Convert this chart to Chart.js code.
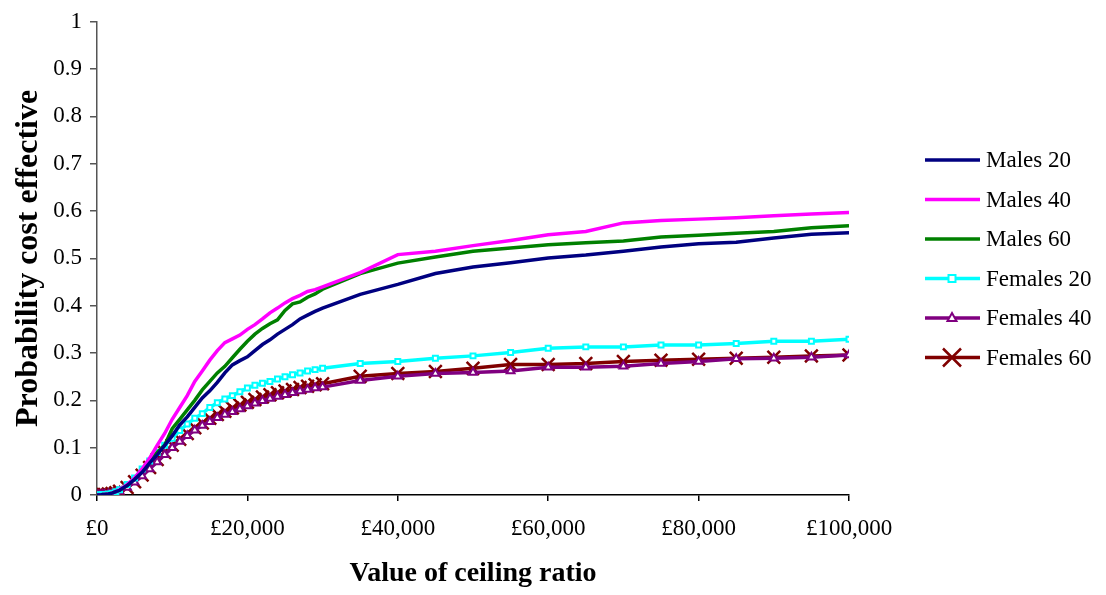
<!DOCTYPE html>
<html>
<head>
<meta charset="utf-8">
<title>Probability cost effective</title>
<script src="https://cdn.jsdelivr.net/npm/chart.js@4.4.1/dist/chart.umd.min.js"></script>
<style>
  body { margin: 0; background: #fff; }
  canvas { display: block; }
</style>
</head>
<body>
<canvas id="ceac" width="1106" height="595"></canvas>
<script>
// ceiling ratio values (£)
var ceilingRatio = [0, 250, 500, 750, 1000, 1500, 2000, 2500, 3000,
	4000, 5000, 6000, 7000, 8000, 9000, 10000, 11000, 12000, 13000, 14000, 15000,
	16000, 17000, 18000, 19000, 20000, 21000, 22000, 23000, 24000, 25000, 26000,
	27000, 28000, 29000, 30000,
	35000, 40000, 45000, 50000, 55000, 60000, 65000, 70000, 75000, 80000, 85000,
	90000, 95000, 100000];

var males20 = [0, 0, 0, 0.001, 0.001, 0.002, 0.004, 0.007, 0.01,
	0.02, 0.033, 0.048, 0.068, 0.085, 0.105, 0.125, 0.148, 0.165, 0.185, 0.205, 0.22,
	0.238, 0.258, 0.275, 0.284, 0.292, 0.305, 0.318, 0.328, 0.34, 0.35, 0.36,
	0.372, 0.38, 0.388, 0.395,
	0.424, 0.445, 0.468, 0.482, 0.491, 0.501, 0.507, 0.515, 0.524, 0.531, 0.534,
	0.543, 0.551, 0.554];

var males40 = [0, 0, 0, 0.001, 0.001, 0.002, 0.004, 0.007, 0.011,
	0.022, 0.036, 0.055, 0.078, 0.105, 0.13, 0.16, 0.185, 0.21, 0.24, 0.262, 0.285,
	0.305, 0.322, 0.33, 0.338, 0.35, 0.36, 0.372, 0.385, 0.395, 0.406, 0.415,
	0.422, 0.43, 0.434, 0.44,
	0.47, 0.508, 0.515, 0.527, 0.538, 0.55, 0.557, 0.575, 0.58, 0.583, 0.586,
	0.59, 0.594, 0.597];

var males60 = [0, 0, 0, 0.001, 0.001, 0.002, 0.004, 0.007, 0.01,
	0.02, 0.034, 0.05, 0.07, 0.09, 0.105, 0.14, 0.16, 0.18, 0.2, 0.222, 0.24,
	0.258, 0.272, 0.29, 0.308, 0.325, 0.34, 0.352, 0.362, 0.37, 0.39, 0.404,
	0.408, 0.418, 0.425, 0.435,
	0.468, 0.49, 0.503, 0.515, 0.522, 0.529, 0.533, 0.537, 0.545, 0.549, 0.553,
	0.557, 0.565, 0.569];

var females20 = [0, 0, 0, 0.001, 0.001, 0.002, 0.004, 0.007, 0.011,
	0.022, 0.036, 0.055, 0.072, 0.09, 0.105, 0.12, 0.136, 0.15, 0.162, 0.172, 0.185,
	0.195, 0.203, 0.21, 0.218, 0.226, 0.232, 0.236, 0.24, 0.245, 0.25, 0.254,
	0.258, 0.262, 0.265, 0.268,
	0.278, 0.282, 0.289, 0.294, 0.301, 0.31, 0.313, 0.313, 0.317, 0.317, 0.32,
	0.325, 0.325, 0.329];

var females40 = [0, 0, 0, 0.001, 0.001, 0.002, 0.003, 0.005, 0.008,
	0.016, 0.027, 0.04, 0.055, 0.07, 0.085, 0.1, 0.113, 0.125, 0.137, 0.147, 0.155,
	0.163, 0.17, 0.176, 0.182, 0.188, 0.194, 0.199, 0.204, 0.208, 0.212, 0.216,
	0.22, 0.223, 0.226, 0.228,
	0.242, 0.251, 0.257, 0.259, 0.262, 0.27, 0.27, 0.272, 0.278, 0.282, 0.288,
	0.289, 0.291, 0.296];

var females60 = [0, 0, 0, 0.001, 0.001, 0.002, 0.003, 0.005, 0.008,
	0.016, 0.028, 0.042, 0.058, 0.075, 0.09, 0.105, 0.118, 0.13, 0.142, 0.152, 0.162,
	0.17, 0.177, 0.184, 0.19, 0.196, 0.202, 0.207, 0.212, 0.216, 0.22, 0.223,
	0.227, 0.23, 0.233, 0.235,
	0.251, 0.257, 0.261, 0.268, 0.276, 0.276, 0.278, 0.282, 0.285, 0.287, 0.289,
	0.291, 0.294, 0.296];

var seriesNames = ["Males 20", "Males 40", "Males 60", "Females 20", "Females 40", "Females 60"];
var seriesValues = [males20, males40, males60, females20, females40, females60];
var seriesColors = ["#000080", "#FF00FF", "#008000", "#00FFFF", "#800080", "#800000"];
var seriesMarkers = [false, false, false, "rect", "triangle", "crossRot"];

var xTicks = [0, 20000, 40000, 60000, 80000, 100000];
var yTicks = [0, 0.1, 0.2, 0.3, 0.4, 0.5, 0.6, 0.7, 0.8, 0.9, 1];

var serif = "'Liberation Serif', 'Times New Roman', serif";

function pointsFor(values) {
	var pts = [];
	for (var i = 0; i < values.length; i++) {
		pts.push({ x: ceilingRatio[i], y: values[i] });
	}
	return pts;
}

function markerSize(style) {
	if (style == "crossRot") return 9;
	if (style == "triangle") return 4.5;
	return 3.5;
}

var datasets = [];
for (var s = 0; s < seriesNames.length; s++) {
	var mk = seriesMarkers[s];
	datasets.push({
		label: seriesNames[s],
		data: pointsFor(seriesValues[s]),
		borderColor: seriesColors[s],
		backgroundColor: seriesColors[s],
		borderWidth: 3.5,
		tension: 0,
		fill: false,
		pointStyle: mk || "circle",
		pointRadius: mk ? markerSize(mk) : 0,
		pointBorderColor: seriesColors[s],
		pointBackgroundColor: "#ffffff",
		pointBorderWidth: mk == "crossRot" ? 2.5 : 2
	});
}

// legend drawn by hand so each entry shows its line with the marker on it
function drawMarker(ctx, style, x, y, color) {
	ctx.save();
	ctx.strokeStyle = color;
	ctx.fillStyle = "#ffffff";
	if (style == "rect") {
		ctx.lineWidth = 2;
		ctx.fillRect(x - 3.5, y - 3.5, 7, 7);
		ctx.strokeRect(x - 3.5, y - 3.5, 7, 7);
	} else if (style == "triangle") {
		ctx.lineWidth = 2;
		ctx.beginPath();
		ctx.moveTo(x, y - 5);
		ctx.lineTo(x + 4.5, y + 3);
		ctx.lineTo(x - 4.5, y + 3);
		ctx.closePath();
		ctx.fill();
		ctx.stroke();
	} else if (style == "crossRot") {
		ctx.lineWidth = 2.5;
		ctx.beginPath();
		ctx.moveTo(x - 9, y - 9);
		ctx.lineTo(x + 9, y + 9);
		ctx.moveTo(x + 9, y - 9);
		ctx.lineTo(x - 9, y + 9);
		ctx.stroke();
	}
	ctx.restore();
}

var sideLegend = {
	id: "sideLegend",
	afterDraw: function (chart) {
		var ctx = chart.ctx;
		ctx.save();
		ctx.font = "23px " + serif;
		ctx.textBaseline = "middle";
		ctx.textAlign = "left";
		for (var i = 0; i < chart.data.datasets.length; i++) {
			var ds = chart.data.datasets[i];
			var y = 160 + i * 39.5;
			ctx.strokeStyle = ds.borderColor;
			ctx.lineWidth = 3.5;
			ctx.beginPath();
			ctx.moveTo(925, y);
			ctx.lineTo(980, y);
			ctx.stroke();
			if (seriesMarkers[i]) drawMarker(ctx, seriesMarkers[i], 952, y, ds.borderColor);
			ctx.fillStyle = "#000";
			ctx.fillText(ds.label, 986, y + 1);
		}
		ctx.restore();
	}
};

var ctx = document.getElementById("ceac");

var chart = new Chart(ctx, {
	type: "line",
	data: { datasets: datasets },
	options: {
		responsive: false,
		animation: false,
		layout: { padding: { top: 16, right: 257, left: 0, bottom: 0 } },
		plugins: {
			legend: { display: false },
			tooltip: { enabled: false }
		},
		scales: {
			x: {
				type: "linear",
				min: 0,
				max: 100000,
				afterFit: function (scale) { scale.height = 100; },
				afterBuildTicks: function (scale) {
					scale.ticks = xTicks.map(function (v) { return { value: v }; });
				},
				border: { display: true, color: "#000", width: 1.5 },
				grid: { display: true, drawOnChartArea: false, drawTicks: true, tickLength: 6, color: "#000", lineWidth: 1.5 },
				ticks: {
					maxRotation: 0,
					padding: 14,
					color: "#000",
					font: { family: serif, size: 23 },
					callback: function (v) { return "£" + Number(v).toLocaleString("en-GB"); }
				},
				title: {
					display: true,
					text: "Value of ceiling ratio",
					color: "#000",
					font: { family: serif, size: 28, weight: "bold" },
					padding: { top: 0, bottom: 4 }
				}
			},
			y: {
				min: 0,
				max: 1,
				afterFit: function (scale) { scale.width = 97; },
				afterBuildTicks: function (scale) {
					scale.ticks = yTicks.map(function (v) { return { value: v }; });
				},
				border: { display: true, color: "#555", width: 1.5 },
				grid: { display: true, drawOnChartArea: false, drawTicks: true, tickLength: 7, color: "#555", lineWidth: 1.5 },
				ticks: {
					padding: 8,
					color: "#000",
					font: { family: serif, size: 23 },
					callback: function (v) { return String(Math.round(v * 10) / 10); }
				},
				title: {
					display: true,
					text: "Probability cost effective",
					color: "#000",
					font: { family: serif, size: 32, weight: "bold" },
					padding: { top: 10, bottom: 0 }
				}
			}
		}
	},
	plugins: [sideLegend]
});
</script>
</body>
</html>
